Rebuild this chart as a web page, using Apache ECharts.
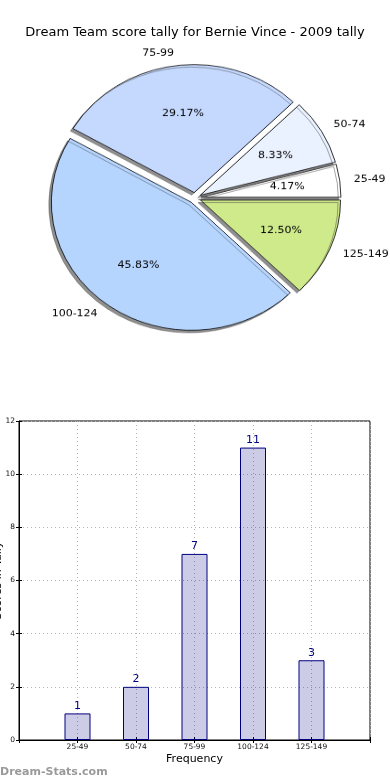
<!DOCTYPE html>
<html><head><meta charset="utf-8">
<script src="https://cdn.jsdelivr.net/npm/echarts@6/dist/echarts.min.js"></script>
<style>
html,body{margin:0;padding:0;background:#fff;width:390px;height:780px;overflow:hidden}
#main{position:absolute;left:0;top:0;width:390px;height:780px}
#pie{position:absolute;left:0;top:0;width:390px;height:400px;transform:scaleY(0.914);transform-origin:0 0}
</style></head>
<body><div id="main"></div><div id="pie"></div>
<script>
const titleText = 'Dream Team score tally for Bernie Vince - 2009 tally';
const categories = ['25-49', '50-74', '75-99', '100-124', '125-149'];
const counts = [1, 2, 7, 11, 3];
const sliceColors = ['#ffffff', '#eaf1ff', '#c5d9ff', '#b5d5ff', '#cfea8b'];
const yAxisName = 'Scores in Tally';
const xAxisName = 'Frequency';
const watermark = 'Dream-Stats.com';

const FONT = 'DejaVu Sans';
const total = counts.reduce((a, b) => a + b, 0);
const grid = {type: [1, 3], color: '#b4b4b4', width: 1};

// ---------- bar chart + title ----------
const main = echarts.init(document.getElementById('main'), null, {renderer: 'canvas'});
main.setOption({
  animation: false,
  title: {text: titleText, left: 'center', top: 21,
    textStyle: {fontFamily: FONT, fontSize: 13, fontWeight: 'normal', color: '#000'}},
  grid: {left: 19, top: 421, width: 351, height: 319, show: true,
    borderColor: '#000', borderWidth: 1, backgroundColor: 'transparent',
    outerBoundsMode: 'none', containLabel: false},
  xAxis: [{
    type: 'value', min: 0, max: 6, interval: 1, position: 'bottom',
    axisLine: {show: true, lineStyle: {color: '#000', width: 1}},
    axisTick: {show: true, inside: true, length: 3, lineStyle: {color: '#000'}},
    axisLabel: {formatter: v => categories[v - 1] || '', fontFamily: FONT, fontSize: 7.5, color: '#111', margin: 3},
    splitLine: {show: true, lineStyle: grid},
    name: xAxisName, nameLocation: 'middle', nameGap: 14,
    nameTextStyle: {fontFamily: FONT, fontSize: 11, color: '#000'}
  }, {
    type: 'value', min: 0, max: 6, interval: 1, position: 'top',
    axisLine: {show: false}, axisLabel: {show: false}, splitLine: {show: false},
    axisTick: {show: true, inside: true, length: 3, lineStyle: {color: '#000'}}
  }],
  yAxis: [{
    type: 'value', min: 0, max: 12, interval: 2, position: 'left',
    axisLine: {show: true, lineStyle: {color: '#000', width: 1}},
    axisTick: {show: true, inside: true, length: 3, lineStyle: {color: '#000'}},
    axisLabel: {fontFamily: FONT, fontSize: 7.5, color: '#111', margin: 4},
    splitLine: {show: true, lineStyle: grid},
    name: yAxisName, nameLocation: 'middle', nameGap: 15.5, nameMoveOverlap: false,
    nameTextStyle: {fontFamily: FONT, fontSize: 11, color: '#000'}
  }, {
    type: 'value', min: 0, max: 12, interval: 2, position: 'right',
    axisLine: {show: false}, axisLabel: {show: false}, splitLine: {show: false},
    axisTick: {show: true, inside: true, length: 3, lineStyle: {color: '#000'}}
  }],
  series: [{
    type: 'bar', xAxisIndex: 0, yAxisIndex: 0,
    data: counts.map((v, i) => [i + 1, v]),
    barWidth: 26,
    itemStyle: {color: 'rgba(0,0,128,0.2)', borderColor: '#000080', borderWidth: 1},
    label: {show: true, position: 'top', distance: 2, color: '#000080',
      fontFamily: FONT, fontSize: 11, formatter: p => String(p.value[1])},
    emphasis: {disabled: true}, silent: true
  }],
  graphic: [{
    type: 'text', left: 0, top: 767,
    style: {text: watermark, fill: '#9a9a9a', font: 'bold 11px "DejaVu Sans"'}
  }]
});

// ---------- pie (vertically squashed like the original) ----------
const pie = echarts.init(document.getElementById('pie'), null, {renderer: 'canvas'});
const CX = 195, CY = 216.6, R = 140;
const pieData = categories.map((c, i) => ({name: c, value: counts[i], selected: true,
  itemStyle: {color: sliceColors[i]}}));
pie.setOption({
  animation: false,
  series: [{
    type: 'pie', center: [CX, CY], radius: [0, R], startAngle: 0, clockwise: false,
    selectedMode: 'multiple', selectedOffset: 6, avoidLabelOverlap: false,
    data: pieData,
    itemStyle: {borderColor: '#000', borderWidth: 0.8,
      shadowColor: 'rgba(70,70,70,0.6)', shadowOffsetX: -2.5, shadowOffsetY: 2.7, shadowBlur: 0},
    select: {itemStyle: {borderColor: '#000', borderWidth: 0.8}},
    label: {show: true, position: 'outside', formatter: '{b}', color: '#000',
      fontFamily: FONT, fontSize: 11, distanceToLabelLine: 0},
    labelLine: {show: false, length: 14, length2: 0},
    emphasis: {disabled: true}, silent: true
  }, {
    type: 'pie', center: [CX, CY], radius: [0, R * 1.2], startAngle: 0, clockwise: false,
    selectedMode: 'multiple', selectedOffset: 6, avoidLabelOverlap: false,
    data: categories.map((c, i) => ({name: c, value: counts[i], selected: true})),
    itemStyle: {color: 'rgba(0,0,0,0)', borderWidth: 0},
    select: {itemStyle: {color: 'rgba(0,0,0,0)', borderWidth: 0}},
    label: {show: true, position: 'inside', color: '#000', fontFamily: FONT, fontSize: 11,
      formatter: p => (p.value / total * 100).toFixed(2) + '%'},
    labelLine: {show: false},
    emphasis: {disabled: true}, silent: true
  }]
});
</script>
</body></html>
